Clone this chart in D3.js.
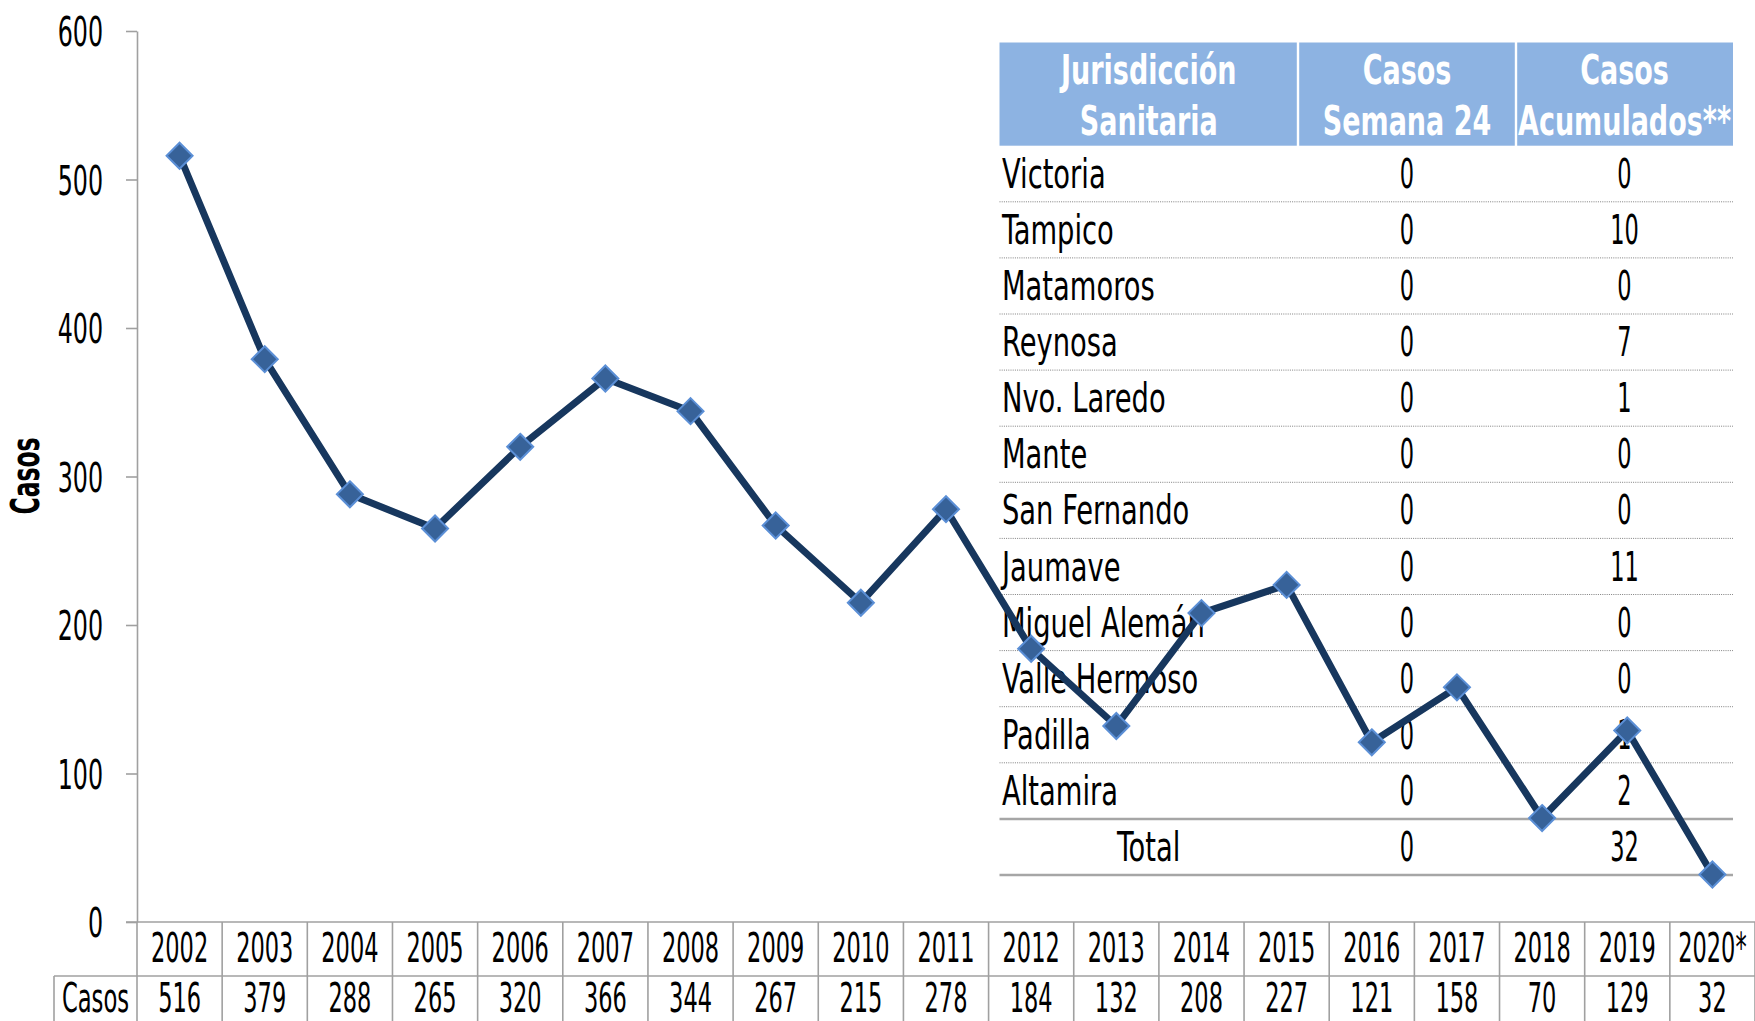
<!DOCTYPE html>
<html>
<head>
<meta charset="utf-8">
<script src="https://cdn.jsdelivr.net/npm/d3@7"></script>
<style>
  body { margin: 0; background: #fff; }
  svg text { font-family: "DejaVu Sans Condensed", "DejaVu Sans", sans-serif; fill: #000; }
</style>
</head>
<body>
<svg id="chart" width="1755" height="1021"></svg>
<script>
/********************************************************
 ********************* Data *****************************
 ********************************************************/
var years = ["2002", "2003", "2004", "2005", "2006", "2007", "2008", "2009", "2010",
  "2011", "2012", "2013", "2014", "2015", "2016", "2017", "2018", "2019", "2020*"];
var casos = [516, 379, 288, 265, 320, 366, 344, 267, 215, 278, 184, 132, 208, 227, 121, 158, 70, 129, 32];
var yTicks = [0, 100, 200, 300, 400, 500, 600];

var headers = [["Jurisdicción", "Sanitaria"], ["Casos", "Semana 24"], ["Casos", "Acumulados**"]];
var jurisdicciones = ["Victoria", "Tampico", "Matamoros", "Reynosa", "Nvo. Laredo", "Mante",
  "San Fernando", "Jaumave", "Miguel Alemán", "Valle Hermoso", "Padilla", "Altamira"];
var semana24 = [0, 0, 0, 0, 0, 0, 0, 0, 0, 0, 0, 0];
var acumulados = [0, 10, 0, 7, 1, 0, 0, 11, 0, 0, 1, 2];
var totalLabel = "Total";
var totalSemana = 0;
var totalAcumulados = 32;

/********************************************************
 ********************* Layout ***************************
 ********************************************************/
var svg = d3.select("#chart");
var plotLeft = 137, plotRight = 1755, plotTop = 31, plotBottom = 922;
var rowSplit = 976, tableBottom = 1021, casosLeft = 54;
var gridColor = "#a0a0a0";

var xScale = d3.scaleBand().domain(years).range([plotLeft, plotRight]);
var yScale = d3.scaleLinear().domain([0, 600]).range([plotBottom, plotTop]);

// condensed text helper (Agency-like look)
function ctext(parent, x, y, str, size, sx, anchor, weight) {
  return parent.append("text")
    .attr("transform", "translate(" + x + "," + y + ") scale(" + sx + ",1)")
    .attr("text-anchor", anchor || "middle")
    .style("font-size", size + "px")
    .style("font-weight", weight || "normal")
    .text(str);
}

/********************************************************
 ********************* Y axis ***************************
 ********************************************************/
var yAxis = svg.append("g")
  .attr("transform", "translate(" + plotLeft + ",0)")
  .call(d3.axisLeft(yScale).tickValues(yTicks).tickSize(11).tickSizeOuter(0).tickFormat(""));
yAxis.selectAll("path, line").attr("stroke", gridColor).attr("stroke-width", 1.6);

yTicks.forEach(function(t) {
  ctext(svg, 103, yScale(t) + 15, t, 40, 0.66, "end");
});

svg.append("g")
  .attr("transform", "translate(39,476) rotate(-90)")
  .append("text")
  .attr("transform", "scale(0.67,1)")
  .attr("text-anchor", "middle")
  .style("font-size", "39px")
  .style("font-weight", "bold")
  .text("Casos");

/********************************************************
 ********************* Data table (bottom) **************
 ********************************************************/
var grid = svg.append("g").attr("stroke", gridColor).attr("stroke-width", 1.6);
grid.append("line").attr("x1", 126).attr("x2", plotRight).attr("y1", plotBottom).attr("y2", plotBottom);
grid.append("line").attr("x1", casosLeft).attr("x2", plotRight).attr("y1", rowSplit).attr("y2", rowSplit);
grid.append("line").attr("x1", casosLeft).attr("x2", casosLeft).attr("y1", rowSplit).attr("y2", tableBottom);
grid.append("line").attr("x1", plotLeft).attr("x2", plotLeft).attr("y1", plotBottom).attr("y2", tableBottom);
years.forEach(function(y) {
  var xe = xScale(y) + xScale.bandwidth();
  grid.append("line").attr("x1", xe).attr("x2", xe).attr("y1", plotBottom).attr("y2", tableBottom);
});

ctext(svg, (casosLeft + plotLeft) / 2, 1012, "Casos", 40, 0.63);
years.forEach(function(y, i) {
  var cx = xScale(y) + xScale.bandwidth() / 2;
  ctext(svg, cx, 962, y, 41, 0.61);
  ctext(svg, cx, 1012, casos[i], 41, 0.61);
});

/********************************************************
 ********************* Jurisdiction table ***************
 ********************************************************/
var tLeft = 999.5, tRight = 1733;
var colEdges = [tLeft, 1298, 1516, tRight];
var headTop = 42.5, headBottom = 145.7;
var rows = jurisdicciones.concat([totalLabel]);
var rowScale = d3.scaleBand().domain(rows).range([headBottom, headBottom + rows.length * 56.1]);

var tbl = svg.append("g");
headers.forEach(function(h, i) {
  var x0 = colEdges[i] + (i > 0 ? 1.2 : 0), x1 = colEdges[i + 1] - (i < 2 ? 1.2 : 0);
  tbl.append("rect")
    .attr("x", x0).attr("y", headTop)
    .attr("width", x1 - x0).attr("height", headBottom - headTop)
    .attr("fill", "#8db3e2");
  var cx = (colEdges[i] + colEdges[i + 1]) / 2;
  ctext(tbl, cx, 84, h[0], 40, 0.75, "middle", "bold").style("fill", "#fff");
  ctext(tbl, cx, 135, h[1], 40, 0.75, "middle", "bold").style("fill", "#fff");
});

var col2 = (colEdges[1] + colEdges[2]) / 2, col3 = (colEdges[2] + colEdges[3]) / 2;
jurisdicciones.forEach(function(name, i) {
  var yb = rowScale(name) + rowScale.bandwidth() - 14;
  ctext(tbl, 1002, yb, name, 40, 0.76, "start");
  ctext(tbl, col2, yb, semana24[i], 41, 0.61);
  ctext(tbl, col3, yb, acumulados[i], 41, 0.61);
  if (i < jurisdicciones.length - 1) {
    tbl.append("line")
      .attr("x1", tLeft).attr("x2", tRight)
      .attr("y1", rowScale(name) + rowScale.bandwidth())
      .attr("y2", rowScale(name) + rowScale.bandwidth())
      .attr("stroke", "#7f7f7f").attr("stroke-width", 1)
      .attr("stroke-dasharray", "1,1.2");
  }
});
var ty = rowScale(totalLabel);
[ty, ty + rowScale.bandwidth()].forEach(function(yy) {
  tbl.append("line")
    .attr("x1", tLeft).attr("x2", tRight).attr("y1", yy).attr("y2", yy)
    .attr("stroke", "#a6a6a6").attr("stroke-width", 2.5);
});
var tyb = ty + rowScale.bandwidth() - 14;
ctext(tbl, (colEdges[0] + colEdges[1]) / 2, tyb, totalLabel, 40, 0.76);
ctext(tbl, col2, tyb, totalSemana, 41, 0.61);
ctext(tbl, col3, tyb, totalAcumulados, 41, 0.61);

/********************************************************
 ********************* Line series **********************
 ********************************************************/
var data = years.map(function(y, i) { return { year: y, value: casos[i] }; });
var line = d3.line()
  .x(function(d) { return xScale(d.year) + xScale.bandwidth() / 2; })
  .y(function(d) { return yScale(d.value); });

svg.append("path")
  .datum(data)
  .attr("d", line)
  .attr("fill", "none")
  .attr("stroke", "#17375e")
  .attr("stroke-width", 7)
  .attr("stroke-linejoin", "round");

svg.selectAll(".marker")
  .data(data)
  .enter()
  .append("path")
  .attr("class", "marker")
  .attr("d", "M0,-13L13,0L0,13L-13,0Z")
  .attr("transform", function(d) {
    return "translate(" + (xScale(d.year) + xScale.bandwidth() / 2) + "," + yScale(d.value) + ")";
  })
  .attr("fill", "#376299")
  .attr("stroke", "#5b8fd6")
  .attr("stroke-width", 2);
</script>
</body>
</html>
